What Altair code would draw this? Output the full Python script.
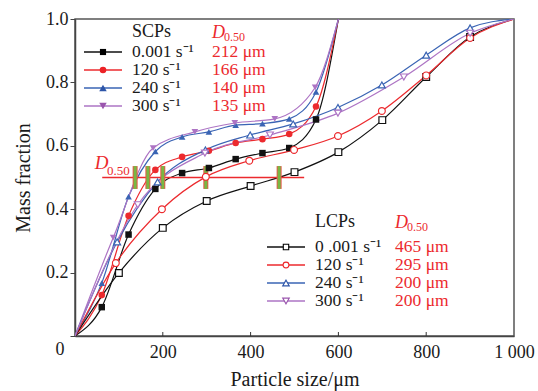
import altair as alt
import pandas as pd

FONT = "Liberation Serif"

# ---------------- data ----------------
scp_rates = ["0.001 s⁻¹", "120 s⁻¹", "240 s⁻¹", "300 s⁻¹"]
lcp_rates = ["0 .001 s⁻¹", "120 s⁻¹", "240 s⁻¹", "300 s⁻¹"]
scp_d50 = ["212 μm", "166 μm", "140 μm", "135 μm"]
lcp_d50 = ["465 μm", "295 μm", "200 μm", "200 μm"]

scp_x = [0, 61, 122, 183, 244, 305, 366, 427, 488, 549, 600]
scp_0001_y = [0, 0.091, 0.320, 0.464, 0.514, 0.530, 0.558, 0.577, 0.593, 0.683, 1.0]
scp_120_y = [0, 0.129, 0.379, 0.524, 0.565, 0.584, 0.609, 0.621, 0.637, 0.724, 1.0]
scp_240_y = [0, 0.167, 0.440, 0.582, 0.628, 0.644, 0.665, 0.670, 0.685, 0.770, 1.0]
scp_300_x = [0, 87, 178, 273, 364, 455, 547, 600]
scp_300_y = [0, 0.310, 0.593, 0.644, 0.672, 0.685, 0.784, 1.0]

lcp_0001_x = [0, 100, 200, 300, 400, 500, 600, 700, 800, 900, 1000]
lcp_0001_y = [0, 0.199, 0.341, 0.426, 0.473, 0.517, 0.580, 0.681, 0.817, 0.943, 1.0]
lcp_120_x = [0, 93, 198, 298, 397, 499, 599, 699, 800, 900, 1000]
lcp_120_y = [0, 0.230, 0.400, 0.502, 0.553, 0.587, 0.631, 0.710, 0.822, 0.940, 1.0]
lcp_240_x = [0, 96, 188, 297, 399, 497, 599, 699, 800, 900, 1000]
lcp_240_y = [0, 0.297, 0.486, 0.587, 0.634, 0.669, 0.721, 0.792, 0.886, 0.972, 1.0]
lcp_300_x = [0, 143, 296, 444, 599, 749, 900, 1000]
lcp_300_y = [0, 0.414, 0.577, 0.634, 0.703, 0.817, 0.955, 1.0]

d50_line_x = [62, 522]
d50_level = 0.5
d50_bar_x = [137, 166, 200, 298, 465]
d50_bar_half = 0.036

x_ticks = [0, 200, 400, 600, 800, 1000]
y_ticks = [0, 0.2, 0.4, 0.6, 0.8, 1.0]

# ---------------- styling ----------------
line_colors = ["#111111", "#ec2a2e", "#3a64b4", "#ad74c4"]
mark_colors = ["#000000", "#ec2226", "#2d55a8", "#9a55ad"]
shapes = ["square", "circle", "triangle-up", "triangle-down"]
sizes = [42, 48, 62, 62]

series = [
    ("S0", scp_x, scp_0001_y), ("S1", scp_x, scp_120_y),
    ("S2", scp_x, scp_240_y), ("S3", scp_300_x, scp_300_y),
    ("L0", lcp_0001_x, lcp_0001_y), ("L1", lcp_120_x, lcp_120_y),
    ("L2", lcp_240_x, lcp_240_y), ("L3", lcp_300_x, lcp_300_y),
]
rows = []
for key, xs, ys in series:
    n = len(xs)
    for i, (xv, yv) in enumerate(zip(xs, ys)):
        rows.append({"key": key, "grp": key[0], "x": xv, "y": yv,
                     "mk": 0 < i < n - 1})
df = pd.DataFrame(rows)

keys = [k for k, _, _ in series]
lc = line_colors * 2
mc = mark_colors * 2
shp = shapes * 2
sz = sizes * 2

xscale = alt.Scale(domain=[0, 1000], nice=False)
yscale = alt.Scale(domain=[0, 1], nice=False)

x_axis = alt.Axis(values=x_ticks, tickSize=0, labelPadding=7, labelFlush=False,
                  labelExpr="datum.value == 0 ? '' : (datum.value == 1000 ? '1 000' : datum.label)",
                  title="Particle size/μm", titlePadding=8, grid=False)
y_axis = alt.Axis(values=y_ticks, tickSize=5, labelPadding=2, labelFlush=False,
                  labelExpr="datum.value == 0 ? '' : format(datum.value, '.1f')",
                  title="Mass fraction", titlePadding=12, grid=False)

lines = alt.Chart(df).mark_line(interpolate="monotone", strokeWidth=1.2, clip=True).encode(
    x=alt.X("x:Q", scale=xscale, axis=x_axis),
    y=alt.Y("y:Q", scale=yscale, axis=y_axis),
    color=alt.Color("key:N", scale=alt.Scale(domain=keys, range=lc), legend=None),
    detail="key:N",
)

pt_enc = dict(
    x=alt.X("x:Q", scale=xscale),
    y=alt.Y("y:Q", scale=yscale),
    color=alt.Color("key:N", scale=alt.Scale(domain=keys, range=mc), legend=None),
    shape=alt.Shape("key:N", scale=alt.Scale(domain=keys, range=shp), legend=None),
    size=alt.Size("key:N", scale=alt.Scale(domain=keys, range=sz), legend=None),
)
scp_pts = alt.Chart(df[(df.grp == "S") & df.mk]).mark_point(
    filled=True, opacity=1).encode(**pt_enc)
lcp_pts = alt.Chart(df[(df.grp == "L") & df.mk]).mark_point(
    filled=False, fill="white", fillOpacity=1, opacity=1, strokeWidth=1.2).encode(**pt_enc)

# D0.50 reference line and bars
d50_df = pd.DataFrame({"x": [d50_line_x[0]], "x2": [d50_line_x[1]], "y": [d50_level]})
d50_line = alt.Chart(d50_df).mark_rule(color="#ec2a2e", strokeWidth=1.3).encode(
    x=alt.X("x:Q", scale=xscale), x2="x2:Q", y=alt.Y("y:Q", scale=yscale))
bar_df = pd.DataFrame({"x": d50_bar_x,
                       "y": [d50_level - d50_bar_half] * len(d50_bar_x),
                       "y2": [d50_level + d50_bar_half] * len(d50_bar_x)})
bars_red = alt.Chart(bar_df).mark_rule(color="#e4584a", strokeWidth=5).encode(
    x=alt.X("x:Q", scale=xscale), y=alt.Y("y:Q", scale=yscale), y2="y2:Q")
bars_green = alt.Chart(bar_df).mark_rule(color="#78b843", strokeWidth=3).encode(
    x=alt.X("x:Q", scale=xscale), y=alt.Y("y:Q", scale=yscale), y2="y2:Q")

# inward x ticks
xt_df = pd.DataFrame({"x": x_ticks[1:-1]})
xticks = alt.Chart(xt_df).mark_rule(color="#333333", strokeWidth=1).encode(
    x=alt.X("x:Q", scale=xscale), y=alt.value(317), y2=alt.value(313))

one = pd.DataFrame({"a": [0]})


def txt(x, y, s, size=18, color="#1a1a1a", style="normal", align="left"):
    return alt.Chart(one).mark_text(
        text=s, font=FONT, fontSize=size, color=color, fontStyle=style,
        align=align, baseline="middle").encode(x=alt.value(x), y=alt.value(y))


RED = "#ec2a2e"
layers = [lines, d50_line, bars_red, bars_green, scp_pts, lcp_pts, xticks]

# D0.50 annotation on the line (data coordinates)
dl = pd.DataFrame({"x": [45], "y": [0.545], "x2": [73], "y2": [0.522]})
layers.append(alt.Chart(dl).mark_text(text="D", font=FONT, fontSize=19, fontStyle="italic",
                                      color=RED, align="left", baseline="middle").encode(
    x=alt.X("x:Q", scale=xscale), y=alt.Y("y:Q", scale=yscale)))
layers.append(alt.Chart(dl).mark_text(text="0.50", font=FONT, fontSize=13,
                                      color=RED, align="left", baseline="middle").encode(
    x=alt.X("x2:Q", scale=xscale), y=alt.Y("y2:Q", scale=yscale)))

# corner "0"
layers.append(txt(-15, 331, "0", align="center"))


def legend(x0, y_head, rows_y, head, rates, d50s, filled, msize_scale):
    out = []
    lx0, lx1, mx, tx, dx = x0, x0 + 38, x0 + 19, x0 + 48, x0 + 128
    out.append(txt(tx, y_head, head))
    out.append(txt(dx, y_head + 1, "D", size=18, color=RED, style="italic"))
    out.append(txt(dx + 12, y_head + 5, "0.50", size=12, color=RED))
    for i, ry in enumerate(rows_y):
        out.append(alt.Chart(one).mark_rule(color=line_colors[i], strokeWidth=1.3).encode(
            x=alt.value(lx0), x2=alt.value(lx1), y=alt.value(ry)))
        if filled:
            pm = alt.Chart(one).mark_point(filled=True, opacity=1, color=mark_colors[i],
                                           shape=shapes[i], size=sizes[i] * msize_scale)
        else:
            pm = alt.Chart(one).mark_point(filled=False, fill="white", fillOpacity=1, opacity=1,
                                           stroke=mark_colors[i], strokeWidth=1.1,
                                           shape=shapes[i], size=sizes[i] * msize_scale)
        out.append(pm.encode(x=alt.value(mx), y=alt.value(ry)))
        out.append(txt(tx, ry, rates[i], size=17.5))
        out.append(txt(dx, ry, d50s[i], size=17.5, color=RED))
    return out


layers += legend(9, 13, [33, 51, 69, 87], "SCPs", scp_rates, scp_d50, True, 0.9)
layers += legend(192, 203, [228, 246, 264, 282], "LCPs", lcp_rates, lcp_d50, False, 0.7)

chart = alt.layer(*layers).properties(
    width=439, height=317,
    padding={"left": 75, "top": 19, "right": 24, "bottom": 55},
    autosize=alt.AutoSizeParams(type="none"),
    background="white",
).configure_view(stroke="#555555", strokeWidth=1.5).configure_axis(
    labelFont=FONT, labelFontSize=18, labelColor="#1a1a1a",
    titleFont=FONT, titleFontSize=20, titleFontWeight="normal", titleColor="#1a1a1a",
    domainColor="#444444", domainWidth=1.5, tickColor="#444444",
)

chart.save("out.html", embed_options={"renderer": "svg", "actions": False})
